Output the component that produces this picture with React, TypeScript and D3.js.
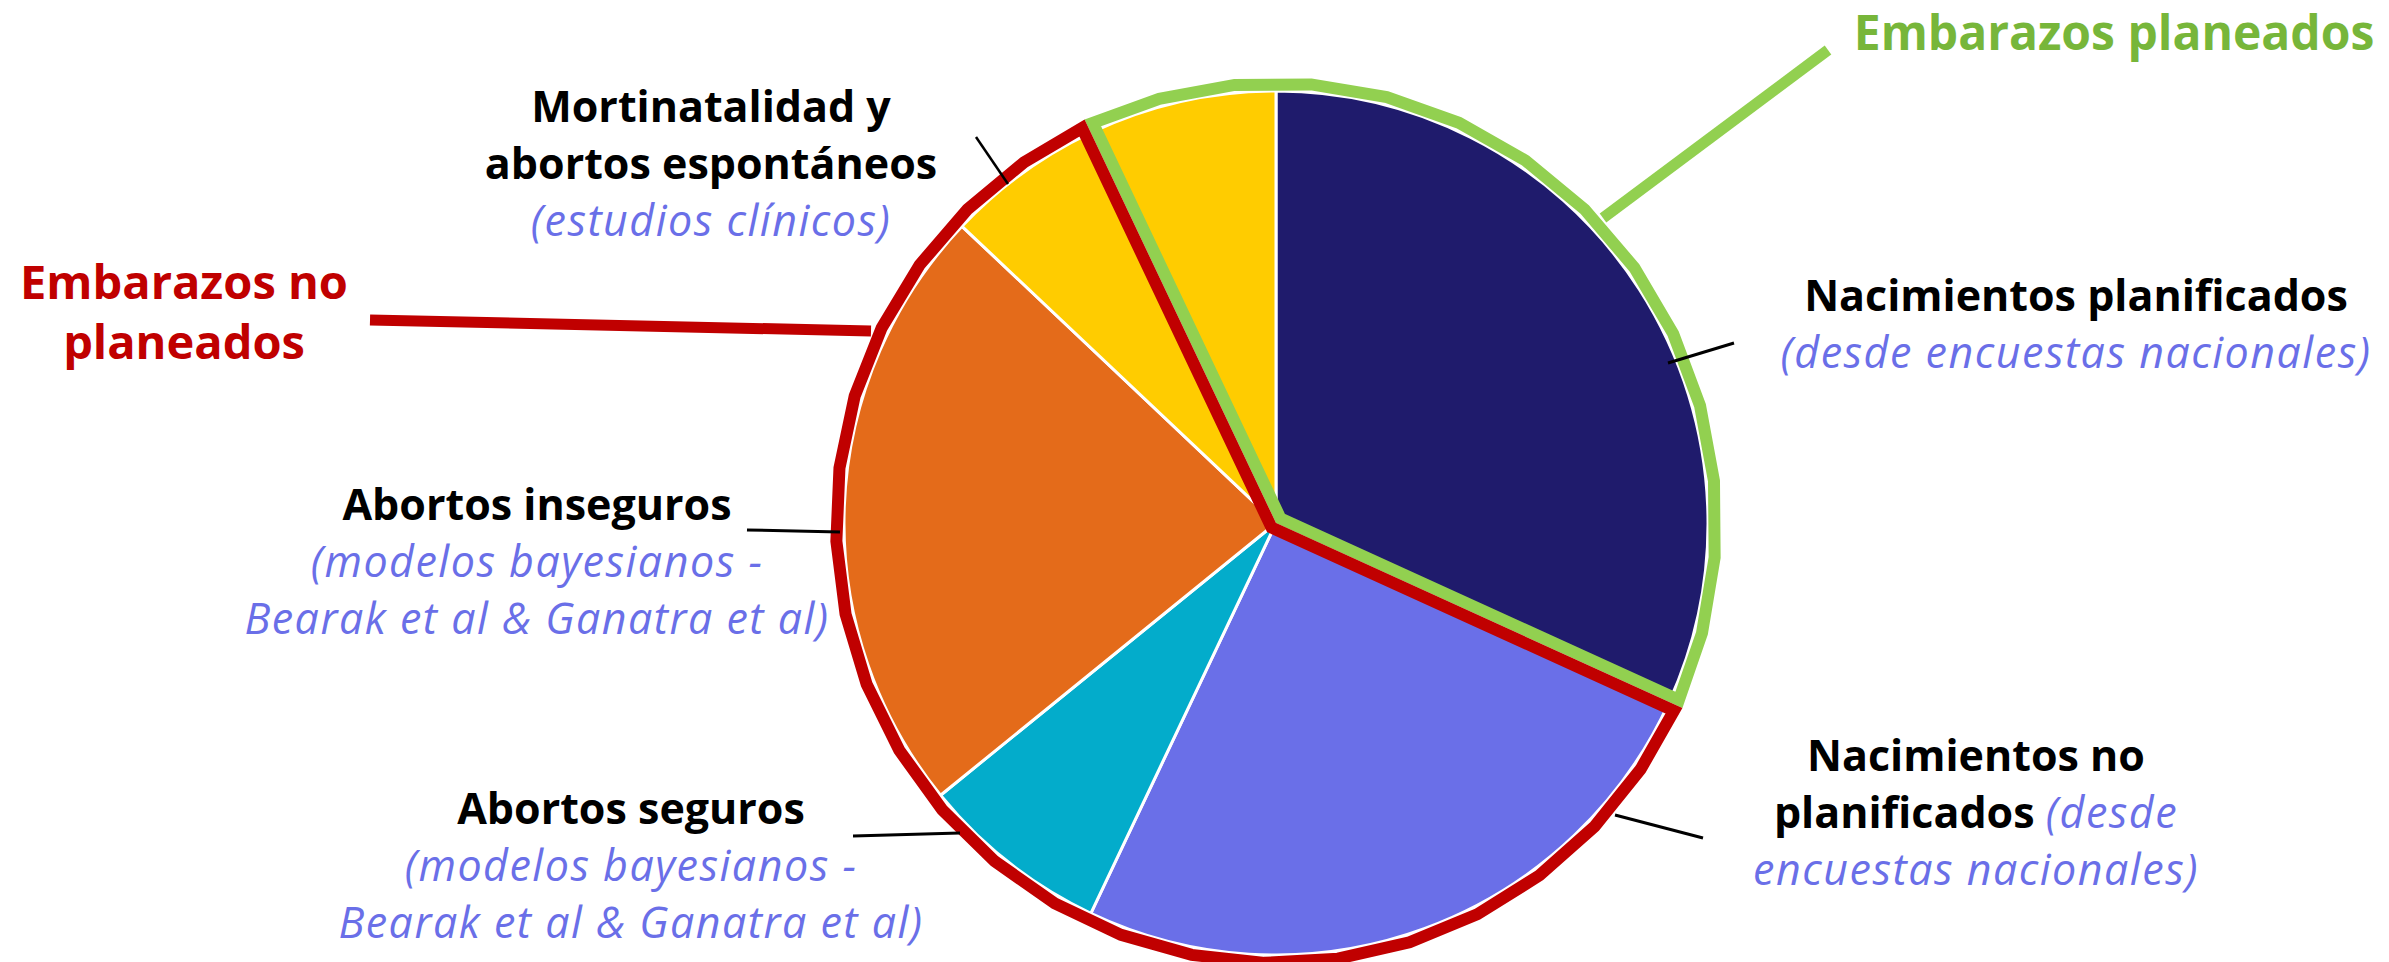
import React from 'react';
import * as d3 from 'd3';

// ---------- data ----------
const categories = [
  'Nacimientos planificados',
  'Nacimientos no planificados',
  'Abortos seguros',
  'Abortos inseguros',
  'Mortinatalidad y abortos espontáneos (no planeados)',
  'Mortinatalidad y abortos espontáneos (planeados)',
];
const values = [31.8, 25.25, 7.1, 22.9, 5.9, 7.05];
const sliceColors = ['#1F1B6C', '#6A6FE8', '#03ACCB', '#E46B1A', '#FFCC00', '#FFCC00'];
const groupPlanned = [true, false, false, false, false, true];

const groupLabels = ['Embarazos planeados', 'Embarazos no', 'planeados'];

type Seg = { t: string; k: 'b' | 'i' };
type Label = { x: number; y: number; lines: Seg[][] };

const sliceLabels: Label[] = [
  { x: 2076, y: 311, lines: [[{ t: 'Nacimientos planificados', k: 'b' }], [{ t: '(desde encuestas nacionales)', k: 'i' }]] },
  { x: 1976, y: 771, lines: [[{ t: 'Nacimientos no', k: 'b' }], [{ t: 'planificados ', k: 'b' }, { t: '(desde', k: 'i' }], [{ t: 'encuestas nacionales)', k: 'i' }]] },
  { x: 631, y: 824, lines: [[{ t: 'Abortos seguros', k: 'b' }], [{ t: '(modelos bayesianos -', k: 'i' }], [{ t: 'Bearak et al & Ganatra et al)', k: 'i' }]] },
  { x: 537, y: 520, lines: [[{ t: 'Abortos inseguros', k: 'b' }], [{ t: '(modelos bayesianos -', k: 'i' }], [{ t: 'Bearak et al & Ganatra et al)', k: 'i' }]] },
  { x: 711, y: 122, lines: [[{ t: 'Mortinatalidad y', k: 'b' }], [{ t: 'abortos espontáneos', k: 'b' }], [{ t: '(estudios clínicos)', k: 'i' }]] },
];

// ---------- layout ----------
const W = 2389;
const H = 962;
const cx = 1276;
const cy = 523;
const R = 432;
const RO = 440;
const FONT = '"Open Sans", Roboto, Arial, sans-serif';
const GREEN = '#92D050';
const GREEN_TXT = '#77B63A';
const RED = '#C00000';
const PERI = '#6A6FE8';

function outline(a0: number, a1: number, d: number): string {
  const th = a1 - a0;
  const am = (a0 + a1) / 2;
  const k = d / Math.sin(th / 2);
  const pts: [number, number][] = [[k * Math.sin(am), -k * Math.cos(am)]];
  const n = Math.max(2, Math.ceil(th / ((10 * Math.PI) / 180)));
  for (let i = 0; i <= n; i++) {
    const a = a0 + (th * i) / n;
    let x = RO * Math.sin(a);
    let y = -RO * Math.cos(a);
    if (i === 0) {
      x += d * Math.cos(a0);
      y += d * Math.sin(a0);
    }
    if (i === n) {
      x -= d * Math.cos(a1);
      y -= d * Math.sin(a1);
    }
    pts.push([x, y]);
  }
  return d3.line()(pts)! + 'Z';
}

export default function App() {
  const arcs = d3.pie<number>().sort(null).value((v) => v)(values);
  const arcGen = d3.arc<d3.PieArcDatum<number>>().innerRadius(0).outerRadius(R);

  const plannedStart = arcs[5].startAngle;
  const plannedEnd = arcs[0].endAngle + 2 * Math.PI;
  const unStart = arcs[1].startAngle;
  const unEnd = arcs[4].endAngle;

  const lineH = 57;

  return (
    <svg width={W} height={H} style={{ position: 'absolute', left: 0, top: 0, background: '#fff' }}>
      <g transform={`translate(${cx},${cy})`}>
        {arcs.map((a, i) => (
          <path key={categories[i]} d={arcGen(a)!} fill={sliceColors[i]} stroke="#fff" strokeWidth={3} strokeLinejoin="round" />
        ))}
        <path d={outline(plannedStart, plannedEnd, 6)} fill="none" stroke={GREEN} strokeWidth={12} strokeLinejoin="miter" />
        <path d={outline(unStart, unEnd, 6)} fill="none" stroke={RED} strokeWidth={12} strokeLinejoin="miter" />
      </g>

      {/* leader lines */}
      <line x1={1603} y1={218} x2={1828} y2={50} stroke={GREEN} strokeWidth={11} />
      <line x1={370} y1={320} x2={871} y2={331} stroke={RED} strokeWidth={11} />
      <line x1={1668} y1={363} x2={1734} y2={343} stroke="#000" strokeWidth={3} />
      <line x1={1615} y1={815} x2={1703} y2={838} stroke="#000" strokeWidth={3} />
      <line x1={853} y1={836} x2={960} y2={833} stroke="#000" strokeWidth={3} />
      <line x1={747} y1={530} x2={840} y2={532} stroke="#000" strokeWidth={3} />
      <line x1={976} y1={137} x2={1008} y2={184} stroke="#000" strokeWidth={2.5} />

      {/* group labels */}
      <text x={2114} y={50} textAnchor="middle" fontFamily={FONT} fontWeight={700} fontSize={48} fill={GREEN_TXT}>
        {groupLabels[0]}
      </text>
      <text x={184} y={299} textAnchor="middle" fontFamily={FONT} fontWeight={700} fontSize={47} fill={RED}>
        {groupLabels[1]}
      </text>
      <text x={184} y={359} textAnchor="middle" fontFamily={FONT} fontWeight={700} fontSize={47} fill={RED}>
        {groupLabels[2]}
      </text>

      {/* slice labels */}
      {sliceLabels.map((lab, i) => (
        <g key={i}>
          {lab.lines.map((ln, j) => (
            <text key={j} x={lab.x} y={lab.y + j * lineH} textAnchor="middle" fontFamily={FONT} fontSize={43}>
              {ln.map((s, m) => (
                <tspan
                  key={m}
                  fontWeight={s.k === 'b' ? 700 : 400}
                  fontStyle={s.k === 'i' ? 'italic' : 'normal'}
                  letterSpacing={s.k === 'i' ? 1.5 : 0}
                  fill={s.k === 'b' ? '#000' : PERI}
                >
                  {s.t}
                </tspan>
              ))}
            </text>
          ))}
        </g>
      ))}
    </svg>
  );
}
